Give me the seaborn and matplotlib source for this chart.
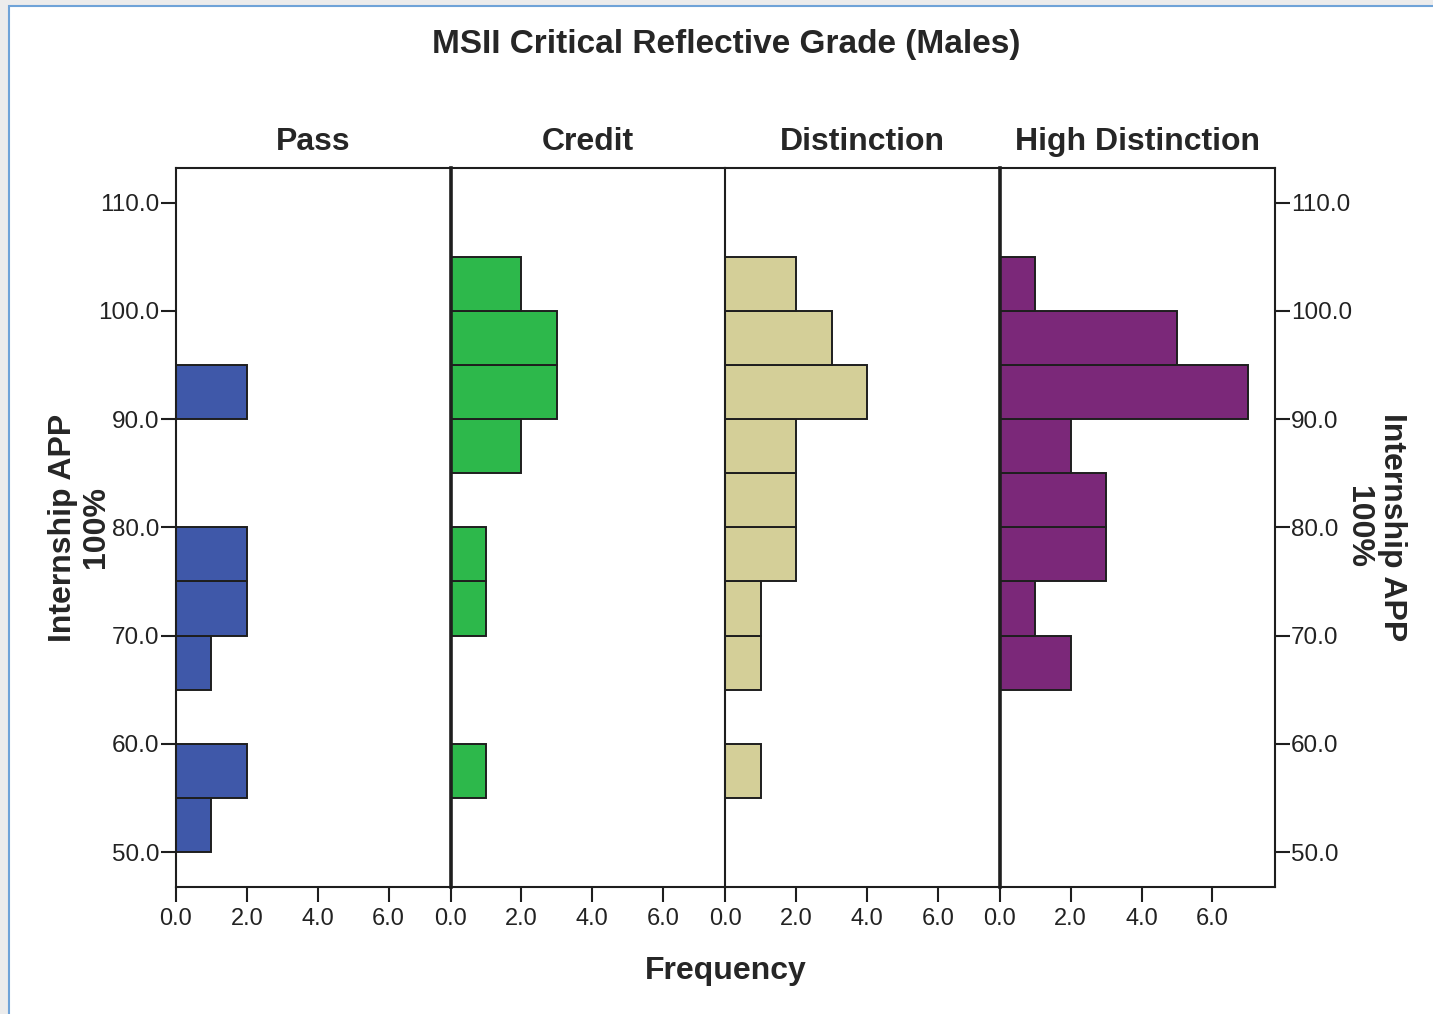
import matplotlib
matplotlib.use("Agg")
import matplotlib.pyplot as plt
from matplotlib.patches import Rectangle
from matplotlib.ticker import FixedLocator, FormatStrFormatter
import numpy as np
import pandas as pd
import seaborn as sns

# ---------------- data ----------------
title = "MSII Critical Reflective Grade (Males)"
groups = ["Pass", "Credit", "Distinction", "High Distinction"]
bin_lower = [50, 55, 60, 65, 70, 75, 80, 85, 90, 95, 100]
bin_width = 5
pass_counts = [1, 2, 0, 1, 2, 2, 0, 0, 2, 0, 0]
credit_counts = [0, 1, 0, 0, 1, 1, 0, 2, 3, 3, 2]
distinction_counts = [0, 1, 0, 1, 1, 2, 2, 2, 4, 3, 2]
high_distinction_counts = [0, 0, 0, 2, 1, 3, 3, 2, 7, 5, 1]
colors = ["#3f58a9", "#2db84b", "#d4cf98", "#7b2879"]
y_ticks = [50, 60, 70, 80, 90, 100, 110]
x_ticks = [0, 2, 4, 6]
y_label_lines = ["Internship APP", "100%"]
x_label = "Frequency"

counts = [pass_counts, credit_counts, distinction_counts, high_distinction_counts]

sns.set_style("white")
plt.rcParams["font.family"] = ["Liberation Sans", "DejaVu Sans"]

W, H = 1433, 1014
fig, axes = plt.subplots(1, 4, sharey=True, figsize=(W / 100, H / 100), dpi=100)
fig.patch.set_facecolor("#ececec")
fig.patches.append(Rectangle((9 / W, -0.01), 1.0, 1 - 5.5 / H + 0.01, transform=fig.transFigure,
                             facecolor="white", edgecolor="#6fa3d8", linewidth=1.5, zorder=-10))

left_px, right_px, top_px, bottom_px = 176, 1274.5, 168, 887
fig.subplots_adjust(left=left_px / W, right=right_px / W, top=1 - top_px / H,
                    bottom=1 - bottom_px / H, wspace=0)

bin_range = (bin_lower[0], bin_lower[-1] + bin_width)
line_col = "#1e1e1e"

for i, (ax, name, cnt, col) in enumerate(zip(axes, groups, counts, colors)):
    df = pd.DataFrame({"score": np.array(bin_lower) + bin_width / 2, "n": cnt})
    df = df[df["n"] > 0]
    sns.histplot(data=df, y="score", weights="n", binwidth=bin_width, binrange=bin_range,
                 ax=ax, color=col, edgecolor=line_col, linewidth=1.4, alpha=1.0)
    ax.set_xlim(0, 7.75)
    ax.set_ylim(46.77, 113.2)
    ax.set_xlabel("")
    ax.set_ylabel("")
    ax.xaxis.set_major_locator(FixedLocator(x_ticks))
    ax.xaxis.set_major_formatter(FormatStrFormatter("%.1f"))
    ax.yaxis.set_major_locator(FixedLocator(y_ticks))
    ax.yaxis.set_major_formatter(FormatStrFormatter("%.1f"))
    ax.tick_params(axis="x", direction="out", length=11, width=1.5, color=line_col,
                   labelsize=17, pad=4, labelcolor="#222222", bottom=True)
    for s in ["top", "bottom", "left", "right"]:
        ax.spines[s].set_color(line_col)
        ax.spines[s].set_linewidth(1.5)
    ax.spines["right"].set_visible(i == 3)
    if i in (1, 3):
        ax.spines["left"].set_linewidth(2.6)
    ax.set_title(name, fontsize=23, fontweight="bold", y=1 + 26 / (bottom_px - top_px),
                 va="center", pad=0)
    if i == 0:
        ax.tick_params(axis="y", direction="out", length=10.5, width=1.5, color=line_col,
                       labelsize=17.5, pad=1.5, labelcolor="#222222", left=True, right=False,
                       labelleft=True, labelright=False)
    elif i == 3:
        ax.tick_params(axis="y", direction="out", length=10.5, width=1.5, color=line_col,
                       labelsize=17.5, pad=1.5, labelcolor="#222222", left=False, right=True,
                       labelleft=False, labelright=True)
    else:
        ax.tick_params(axis="y", left=False, right=False, labelleft=False, labelright=False)

ymid = 1 - (top_px + bottom_px) / 2 / H
# left axis title (two lines, reading bottom-to-top)
fig.text(63 / W, ymid, y_label_lines[0], fontsize=23, fontweight="bold", rotation=90,
         ha="center", va="center")
fig.text(96 / W, ymid, y_label_lines[1], fontsize=23, fontweight="bold", rotation=90,
         ha="center", va="center")
# right axis title (two lines, reading top-to-bottom)
fig.text(1392 / W, ymid, y_label_lines[0], fontsize=23, fontweight="bold", rotation=-90,
         ha="center", va="center")
fig.text(1358 / W, ymid, y_label_lines[1], fontsize=23, fontweight="bold", rotation=-90,
         ha="center", va="center")

fig.text(726 / W, 1 - 971 / H, x_label, fontsize=23, fontweight="bold", ha="center", va="center")
fig.text(726 / W, 1 - 45 / H, title, fontsize=24, fontweight="bold", ha="center", va="center")

fig.savefig("out.png", dpi=100, facecolor=fig.get_facecolor())
